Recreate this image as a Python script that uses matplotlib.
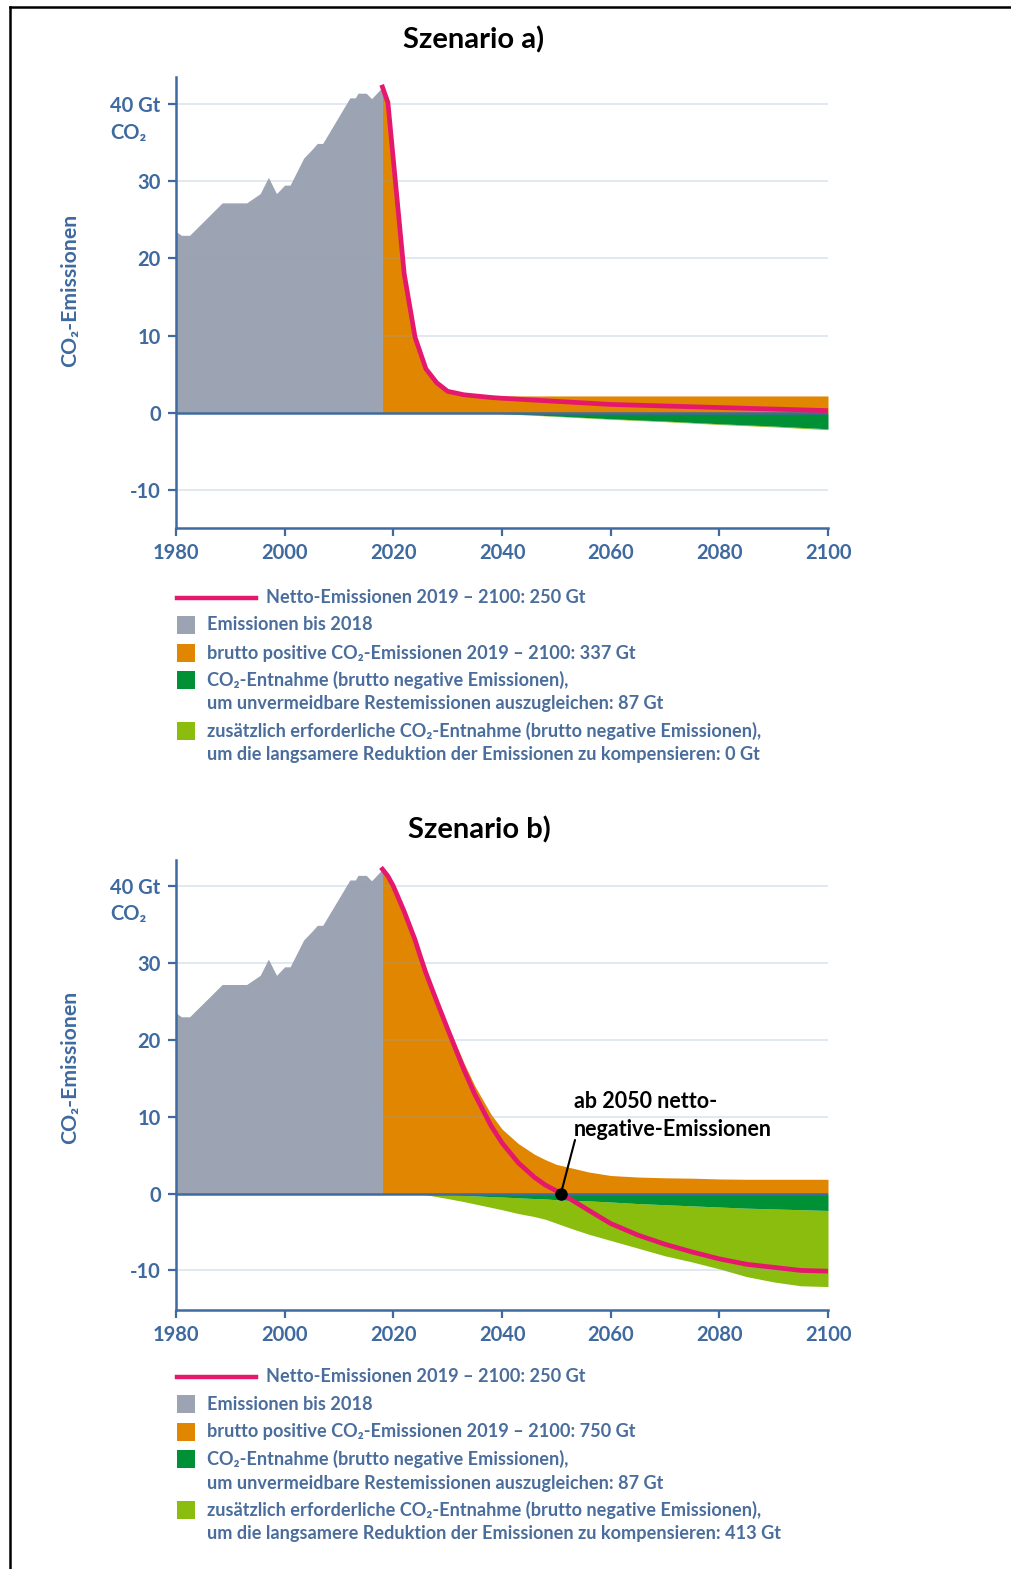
import numpy as np
import matplotlib
matplotlib.use("Agg")
import matplotlib.pyplot as plt
from matplotlib.patches import Rectangle
from matplotlib.lines import Line2D

plt.rcParams['font.family'] = ['Lato', 'DejaVu Sans']

# ---------------- data ----------------
hist_years = [1980, 1981, 1982.5, 1988.5, 1993, 1995.5, 1997, 1998.5, 2000, 2001,
              2003.5, 2005, 2006, 2007, 2012, 2013, 2013.5, 2015, 2016, 2018]
hist_vals = [23.5, 23.0, 23.0, 27.2, 27.2, 28.4, 30.5, 28.4, 29.5, 29.5,
             33.0, 34.1, 34.9, 34.9, 40.8, 40.8, 41.4, 41.4, 40.7, 42.2]

# Szenario a)
years_a = [2018, 2019, 2022, 2024, 2026, 2028, 2030, 2033, 2038, 2040, 2050,
           2060, 2070, 2080, 2090, 2100]
net_a = [42.2, 40.2, 18.0, 9.8, 5.7, 3.9, 2.8, 2.35, 2.0, 1.9, 1.5,
         1.1, 0.9, 0.7, 0.5, 0.3]
pos_a = [42.2, 40.2, 18.0, 9.8, 5.7, 3.9, 2.8, 2.35, 2.25, 2.2, 2.2,
         2.2, 2.2, 2.2, 2.2, 2.2]
removal_a = [0, 0, 0, 0, 0, 0, 0, 0, 0, -0.07, -0.4,
             -0.75, -1.05, -1.4, -1.7, -2.05]
extra_a = [0, 0, 0, 0, 0, 0, 0, 0, 0, -0.1, -0.45,
           -0.82, -1.13, -1.49, -1.8, -2.16]

# Szenario b)
years_b = [2018, 2019, 2020, 2022, 2024, 2025, 2026, 2028, 2030, 2033, 2035, 2038,
           2040, 2043, 2046, 2048, 2050, 2053, 2056, 2060, 2065, 2070, 2075,
           2080, 2085, 2090, 2095, 2100]
net_b = [42.2, 41.3, 40.0, 36.7, 33.0, 30.8, 28.7, 25.0, 21.4, 16.1, 12.9, 8.8,
         6.6, 4.0, 2.1, 1.1, 0.35, -0.9, -2.2, -3.9, -5.4, -6.6, -7.6,
         -8.5, -9.2, -9.6, -10.0, -10.1]
pos_b = [42.2, 41.3, 40.0, 36.7, 33.0, 30.8, 28.8, 25.3, 21.9, 17.0, 14.0, 10.3,
         8.4, 6.5, 5.1, 4.4, 3.8, 3.3, 2.8, 2.35, 2.15, 2.05, 2.0,
         1.9, 1.86, 1.86, 1.86, 1.86]
removal_b = [0, 0, 0, 0, 0, 0, -0.05, -0.1, -0.15, -0.25, -0.3, -0.4,
             -0.45, -0.55, -0.65, -0.7, -0.8, -0.9, -0.95, -1.1, -1.3, -1.45, -1.6,
             -1.75, -1.9, -2.0, -2.1, -2.2]
extra_b = [0, 0, 0, 0, 0, 0, -0.15, -0.4, -0.65, -1.05, -1.35, -1.8,
           -2.1, -2.6, -3.0, -3.35, -3.85, -4.6, -5.3, -6.1, -7.1, -8.1, -8.9,
           -9.8, -10.8, -11.5, -12.0, -12.1]

yticks = [-10, 0, 10, 20, 30, 40]
ytick_labels = ['-10', '0', '10', '20', '30', '40 Gt']
xticks = [1980, 2000, 2020, 2040, 2060, 2080, 2100]

legend_a = ["Netto-Emissionen 2019 – 2100: 250 Gt",
            "Emissionen bis 2018",
            "brutto positive CO₂-Emissionen 2019 – 2100: 337 Gt",
            "CO₂-Entnahme (brutto negative Emissionen),\num unvermeidbare Restemissionen auszugleichen: 87 Gt",
            "zusätzlich erforderliche CO₂-Entnahme (brutto negative Emissionen),\num die langsamere Reduktion der Emissionen zu kompensieren: 0 Gt"]
legend_b = ["Netto-Emissionen 2019 – 2100: 250 Gt",
            "Emissionen bis 2018",
            "brutto positive CO₂-Emissionen 2019 – 2100: 750 Gt",
            "CO₂-Entnahme (brutto negative Emissionen),\num unvermeidbare Restemissionen auszugleichen: 87 Gt",
            "zusätzlich erforderliche CO₂-Entnahme (brutto negative Emissionen),\num die langsamere Reduktion der Emissionen zu kompensieren: 413 Gt"]

# ---------------- style ----------------
C_GRAY = '#9ca3b2'
C_ORANGE = '#e08600'
C_DGREEN = '#009036'
C_LGREEN = '#8abd0e'
C_NET = '#e5186e'
C_AXIS = '#3f6a9f'
C_TEXT = '#4a6d9c'
FAM = ['Lato', 'DejaVu Sans']
TICK_FS = 14.5
LEG_FS = 13.1

W, H = 1011, 1569
fig = plt.figure(figsize=(W / 100, H / 100), dpi=100)


def fx(x):
    return x / W


def fy(y):
    return 1 - y / H


def draw_panel(top, bottom, ylim, years, net, pos, removal, extra):
    ax = fig.add_axes([fx(176), fy(bottom), (828 - 176) / W, (bottom - top) / H])
    ax.set_xlim(1980, 2100)
    ax.set_ylim(*ylim)
    ax.fill_between(hist_years, 0, hist_vals, color=C_GRAY, lw=0, zorder=1)
    ax.fill_between(years, 0, pos, color=C_ORANGE, lw=0, zorder=1)
    ax.fill_between(years, removal, extra, color=C_LGREEN, lw=0, zorder=1)
    ax.fill_between(years, 0, removal, color=C_DGREEN, lw=0, zorder=1)
    for v in yticks:
        if v != 0:
            ax.axhline(v, color='#8fa5c4', alpha=0.28, lw=1.3, zorder=2)
    ax.axhline(0, color=C_AXIS, lw=1.8, zorder=3)
    ax.plot(years, net, color=C_NET, lw=3.4, zorder=4, solid_joinstyle='round')
    for s in ['top', 'right']:
        ax.spines[s].set_visible(False)
    for s in ['left', 'bottom']:
        ax.spines[s].set_color(C_AXIS)
        ax.spines[s].set_linewidth(1.8)
    ax.set_yticks(yticks)
    ax.set_yticklabels(ytick_labels)
    ax.set_xticks(xticks)
    ax.tick_params(axis='both', colors=C_AXIS, labelcolor=C_AXIS, width=1.6,
                   length=6, labelsize=TICK_FS)
    ax.tick_params(axis='y', pad=5)
    ax.tick_params(axis='x', pad=5)
    for lab in ax.get_xticklabels() + ax.get_yticklabels():
        lab.set_fontweight('bold')
        lab.set_family(FAM)
    ax.set_facecolor('none')
    return ax


# ---- Szenario a ----
fig.text(fx(474), fy(40), "Szenario a)", ha='center', va='center', fontsize=21,
         fontweight='bold', color='black', family=FAM)
ax_a = draw_panel(77, 528, (-14.9, 43.5), years_a, net_a, pos_a, removal_a, extra_a)
fig.text(fx(110), fy(133), "CO₂", ha='left', va='center', fontsize=TICK_FS,
         fontweight='bold', color=C_AXIS, family=FAM)
fig.text(fx(70), fy(290), "CO₂-Emissionen", rotation=90, ha='center', va='center',
         fontsize=15.3, fontweight='bold', color=C_AXIS, family=FAM)

# ---- Szenario b ----
fig.text(fx(479), fy(830), "Szenario b)", ha='center', va='center', fontsize=21,
         fontweight='bold', color='black', family=FAM)
ax_b = draw_panel(860, 1310, (-15.15, 43.4), years_b, net_b, pos_b, removal_b, extra_b)
fig.text(fx(110), fy(914), "CO₂", ha='left', va='center', fontsize=TICK_FS,
         fontweight='bold', color=C_AXIS, family=FAM)
fig.text(fx(70), fy(1067), "CO₂-Emissionen", rotation=90, ha='center', va='center',
         fontsize=15.3, fontweight='bold', color=C_AXIS, family=FAM)

# crossing point of net emissions in b
nb = np.array(net_b)
yb = np.array(years_b, dtype=float)
i = int(np.where((nb[:-1] > 0) & (nb[1:] <= 0))[0][0])
cross = yb[i] + (yb[i + 1] - yb[i]) * nb[i] / (nb[i] - nb[i + 1])
ax_b.plot([cross], [0], 'o', color='black', ms=8, zorder=6)
ax_b.annotate('', xy=(cross, 0), xytext=(fx(575), fy(1140)), textcoords='figure fraction',
              arrowprops=dict(arrowstyle='-', color='black', lw=1.5, shrinkA=0, shrinkB=0),
              zorder=6)
fig.text(fx(574), fy(1102), "ab 2050 netto-", ha='left', va='center', fontsize=15.5,
         fontweight='bold', color='black', family=FAM)
fig.text(fx(574), fy(1130), "negative-Emissionen", ha='left', va='center', fontsize=15.5,
         fontweight='bold', color='black', family=FAM)


# ---- legends ----
def legend(y0, labels):
    colors = [C_NET, C_GRAY, C_ORANGE, C_DGREEN, C_LGREEN]
    rows = [y0, y0 + 27, y0 + 55, y0 + 82, y0 + 133]
    for k, (lab, c, r) in enumerate(zip(labels, colors, rows)):
        if k == 0:
            fig.add_artist(Line2D([fx(177), fx(256)], [fy(r), fy(r)], color=c, lw=3.2))
            fig.text(fx(266), fy(r), lab, ha='left', va='center', fontsize=LEG_FS,
                     fontweight='bold', color=C_TEXT, family=FAM)
        else:
            fig.add_artist(Rectangle((fx(177), fy(r + 9)), 18 / W, 18 / H, color=c, lw=0))
            for j, line in enumerate(lab.split('\n')):
                fig.text(fx(207), fy(r + 24 * j), line, ha='left', va='center',
                         fontsize=LEG_FS, fontweight='bold', color=C_TEXT, family=FAM)


legend(598, legend_a)
legend(1377, legend_b)

# ---- frame ----
fig.add_artist(Line2D([fx(10), 1], [fy(7), fy(7)], color='black', lw=1.8))
fig.add_artist(Line2D([fx(10), fx(10)], [fy(7), 0], color='black', lw=1.8))

fig.savefig('out.png', dpi=100)
